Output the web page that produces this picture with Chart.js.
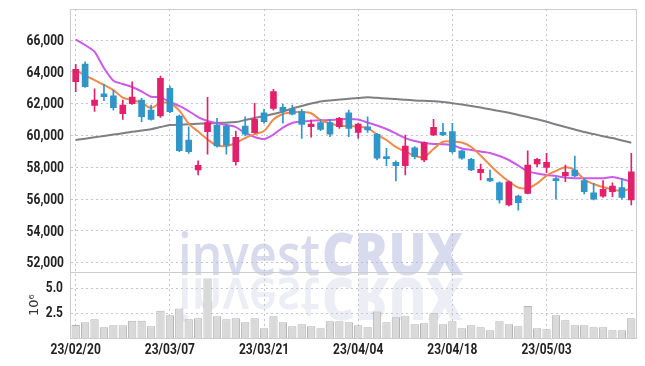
<!DOCTYPE html>
<html><head><meta charset="utf-8">
<script src="https://cdn.jsdelivr.net/npm/chart.js@4/dist/chart.umd.min.js"></script>
<style>html,body{margin:0;padding:0;background:#fff;}#wrap{width:645px;height:366px;position:relative;}</style>
</head><body><div id="wrap"><canvas id="c" width="645" height="366"></canvas></div>
<script>
const dates = ['23/02/20','23/02/21','23/02/22','23/02/23','23/02/24','23/02/27','23/02/28','23/03/02','23/03/03','23/03/06',
'23/03/07','23/03/08','23/03/09','23/03/10','23/03/13','23/03/14','23/03/15','23/03/16','23/03/17','23/03/20',
'23/03/21','23/03/22','23/03/23','23/03/24','23/03/27','23/03/28','23/03/29','23/03/30','23/03/31','23/04/03',
'23/04/04','23/04/05','23/04/06','23/04/07','23/04/10','23/04/11','23/04/12','23/04/13','23/04/14','23/04/17',
'23/04/18','23/04/19','23/04/20','23/04/21','23/04/24','23/04/25','23/04/26','23/04/27','23/04/28','23/05/02',
'23/05/03','23/05/04','23/05/08','23/05/09','23/05/10','23/05/11','23/05/12','23/05/15','23/05/16','23/05/17'];

const opens = [63380,64500,61900,62630,62500,61370,62000,62230,61600,61230,
62970,61230,59720,57830,60240,60660,60600,58350,60600,60180,
61420,61710,61770,61650,61500,60550,60810,60810,60550,61430,
60190,60550,60080,58600,58310,58100,59230,58460,60030,60200,
60240,59030,58500,57660,57310,57030,55630,56190,56360,58210,
58000,57200,57470,57830,57160,56400,56190,56470,56720,55940];
const highs = [64480,64640,62940,63220,62860,62230,63380,62340,61920,63740,
63110,61290,60550,58400,62400,61080,60660,60280,61180,62030,
61650,62910,61980,61920,61650,60970,61020,61020,61140,61600,
60790,61180,60140,59200,58400,60030,59300,59610,61020,60770,
60770,59090,58570,58210,57830,57090,57140,56260,59040,58570,
58880,57370,58140,58710,57310,56990,57160,57030,57310,58880];
const lows = [62760,63030,61520,62190,61600,61020,61960,60870,60970,61140,
61430,58980,58880,57520,58820,59260,58820,58140,59970,60140,
60770,61600,60770,61290,59820,59890,60300,59920,60450,59920,
59820,60200,58460,58100,57140,57520,58520,58350,59990,59990,
58880,58500,57790,57200,57090,55740,55570,55310,56320,58040,
57660,55990,57090,57410,56320,55940,56110,56150,55990,55630];
const closes = [64160,63070,62230,62440,61750,61920,62420,61180,61020,63600,
61500,59040,58980,58130,60810,59340,59400,59890,60090,61020,
60870,62760,61560,61350,60700,60720,60390,60090,61080,60450,
60720,60350,58570,58550,58100,59340,58670,59550,60520,60030,
58980,58570,57830,57870,57140,55940,57090,55770,58140,58500,
58310,57160,57690,57450,56470,55990,56620,56820,56110,57720];

// volume in millions of shares
const volumes = [1.30,1.57,1.87,1.07,1.27,1.27,1.73,1.73,1.17,2.73,
2.27,2.97,1.87,1.97,5.97,2.17,1.87,1.97,1.57,1.97,
0.97,2.17,1.57,1.17,1.37,1.17,0.97,1.67,1.67,1.57,
1.27,1.07,2.67,1.57,2.07,2.17,1.37,1.47,2.47,1.37,
1.67,0.97,1.27,1.07,0.77,1.67,1.37,1.17,3.20,0.97,
0.87,2.27,1.77,1.27,1.27,1.07,1.07,0.77,0.77,1.97];

const maShort = [64150,63770,63490,63180,62860,62390,62230,62060,61730,62040,
62030,61570,60750,60250,59750,59370,59340,59530,59840,60090,
60280,61010,61350,61460,61480,61400,60970,60770,60600,60600,
60550,60470,60060,59720,59280,58990,58710,58650,59150,59610,
59610,59560,59280,58740,58140,57580,57110,56730,56700,56990,
57480,57770,58000,57830,57230,56950,56760,56600,56510,56680];
const maMid = [66040,65690,65280,64250,63450,63240,63050,62770,62440,62400,
62110,61860,61540,61160,60910,60770,60660,60530,60160,59910,
59780,60060,60500,60790,60880,60930,60960,60970,61020,61040,
61010,60820,60630,60410,60130,59840,59650,59530,59470,59450,
59400,59180,59090,58990,58900,58710,58460,58110,57740,57610,
57520,57450,57360,57310,57310,57310,57310,57390,57260,57090];
const maLong = [59720,59800,59890,59970,60060,60140,60230,60310,60400,60530,
60660,60690,60710,60740,60760,60790,60810,60850,60970,61100,
61230,61350,61510,61700,61860,62010,62140,62210,62260,62320,
62360,62400,62370,62330,62300,62250,62210,62180,62160,62110,
62030,61950,61860,61760,61650,61540,61430,61290,61160,61020,
60870,60690,60530,60380,60220,60090,59960,59840,59690,59550];

const priceTicks = [52000,54000,56000,58000,60000,62000,64000,66000];
const volumeTicks = [2.5, 5.0];
const labelEvery = 10;

const UP = '#e2206c', DOWN = '#3095c8';
const candleColors = opens.map((o,i)=> closes[i] >= o ? UP : DOWN);
const bodies = opens.map((o,i)=>[Math.min(o,closes[i]), Math.max(o,closes[i])]);
const wicks = lows.map((l,i)=>[l, highs[i]]);

const LABEL_FONT = "700 15px Roboto";
const LABEL_SX = 0.8;
const GRID = '#c3c6d6';

function drawLabel(ctx, text, x, y, align, sx){
  ctx.save();
  ctx.translate(x, y);
  ctx.scale(sx, 1);
  ctx.textAlign = align;
  ctx.fillText(text, 0, 0);
  ctx.restore();
}

const decor = {
  id:'decor',
  beforeDatasetsDraw(chart){
    const ctx = chart.ctx;
    ctx.save();
    function fit(text, x0, x1, base, font, color){
      ctx.font = font;
      const w = ctx.measureText(text).width;
      ctx.save();
      ctx.translate(x0, base);
      ctx.scale((x1-x0)/w, 1);
      ctx.fillStyle = color;
      ctx.fillText(text, 0, 0);
      ctx.restore();
    }
    const base = 275;
    ctx.textBaseline = 'alphabetic';
    fit('invest', 178, 320, base, "600 58px 'Open Sans'", 'rgba(178,184,220,0.5)');
    fit('CRUX', 322, 463, base, "800 58px 'Open Sans'", 'rgba(178,184,220,0.5)');
    ctx.save();
    ctx.translate(0, 2*base + 3);
    ctx.scale(1, -1);
    fit('invest', 178, 320, base, "600 58px 'Open Sans'", 'rgba(200,203,226,0.35)');
    fit('CRUX', 322, 463, base, "800 58px 'Open Sans'", 'rgba(200,203,226,0.35)');
    ctx.restore();
    ctx.restore();
  },
  afterDraw(chart){
    const ctx = chart.ctx;
    const {left, right} = chart.chartArea;
    const x = chart.scales.x, y = chart.scales.y, v = chart.scales.v;
    ctx.save();
    ctx.strokeStyle = '#cccccc';
    ctx.lineWidth = 1;
    ctx.strokeRect(Math.round(left)-0.5, Math.round(y.top)+0.5, Math.round(right-left)+1, Math.round(y.bottom-y.top));
    ctx.strokeRect(Math.round(left)-0.5, Math.round(v.top)+0.5, Math.round(right-left)+1, Math.round(v.bottom-v.top));
    // tick labels
    ctx.fillStyle = '#222';
    ctx.font = LABEL_FONT;
    ctx.textBaseline = 'middle';
    priceTicks.forEach(t => drawLabel(ctx, t.toLocaleString('en-US'), 64, y.getPixelForValue(t) + 1, 'right', LABEL_SX));
    volumeTicks.forEach(t => drawLabel(ctx, t.toFixed(1), 63, v.getPixelForValue(t), 'right', LABEL_SX));
    dates.forEach((d,i) => { if (i % labelEvery === 0) drawLabel(ctx, d, x.getPixelForValue(i), 350, 'center', LABEL_SX); });
    // exponent title of the volume axis
    ctx.translate(35, (v.top+v.bottom)/2);
    ctx.rotate(-Math.PI/2);
    ctx.fillStyle = '#333';
    ctx.font = "13px 'DejaVu Sans'";
    ctx.textAlign = 'center';
    ctx.fillText('10\u2076', 0, 0);
    ctx.restore();
  }
};

new Chart(document.getElementById('c'), {
  type:'bar',
  data:{
    labels: dates,
    datasets:[
      {type:'bar', data:bodies, yAxisID:'y', backgroundColor:candleColors, barThickness:6, grouped:false, order:0, minBarLength:2},
      {type:'bar', data:wicks, yAxisID:'y', backgroundColor:candleColors, barThickness:1, grouped:false, order:1},
      {type:'line', data:maShort, yAxisID:'y', borderColor:'#ef8a4a', borderWidth:2, pointRadius:0, tension:0.3, order:2},
      {type:'line', data:maMid, yAxisID:'y', borderColor:'#cc5ae8', borderWidth:2, pointRadius:0, tension:0.2, order:3},
      {type:'line', data:maLong, yAxisID:'y', borderColor:'#7f7f7f', borderWidth:2, pointRadius:0, tension:0.3, order:4},
      {type:'bar', data:volumes, yAxisID:'v', backgroundColor:'#d9d9d9', borderColor:'#b3b3b3', borderWidth:1, barPercentage:0.88, categoryPercentage:1, grouped:false, order:5}
    ]
  },
  options:{
    responsive:false, animation:false, devicePixelRatio:1,
    layout:{padding:{top:9, right:9, left:0, bottom:0}},
    plugins:{legend:{display:false}, tooltip:{enabled:false}},
    scales:{
      x:{type:'category', offset:true,
        grid:{offset:false, color:GRID, drawTicks:false},
        border:{display:false, dash:[2,3]},
        ticks:{display:false, autoSkip:false},
        afterBuildTicks(s){ s.ticks = s.ticks.filter(t => t.value % labelEvery === 0); },
        afterFit(s){ s.height = 28; s.paddingLeft = 0; s.paddingRight = 0; }
      },
      v:{type:'linear', position:'left', stack:'panels', stackWeight:1, min:0, max:6.6,
        grid:{color:GRID, drawTicks:false},
        border:{display:false, dash:[2,3]},
        ticks:{display:false},
        afterBuildTicks(s){ s.ticks = volumeTicks.map(t=>({value:t})); },
        afterFit(s){ s.width = 71; s.paddingTop = 0; s.paddingBottom = 0; }
      },
      y:{type:'linear', position:'left', stack:'panels', stackWeight:4, min:51400, max:67960,
        grid:{color:GRID, drawTicks:false},
        border:{display:false, dash:[2,3]},
        ticks:{display:false},
        afterBuildTicks(s){ s.ticks = priceTicks.map(t=>({value:t})); },
        afterFit(s){ s.width = 71; s.paddingTop = 0; s.paddingBottom = 0; }
      }
    }
  },
  plugins:[decor]
});
</script></body></html>
